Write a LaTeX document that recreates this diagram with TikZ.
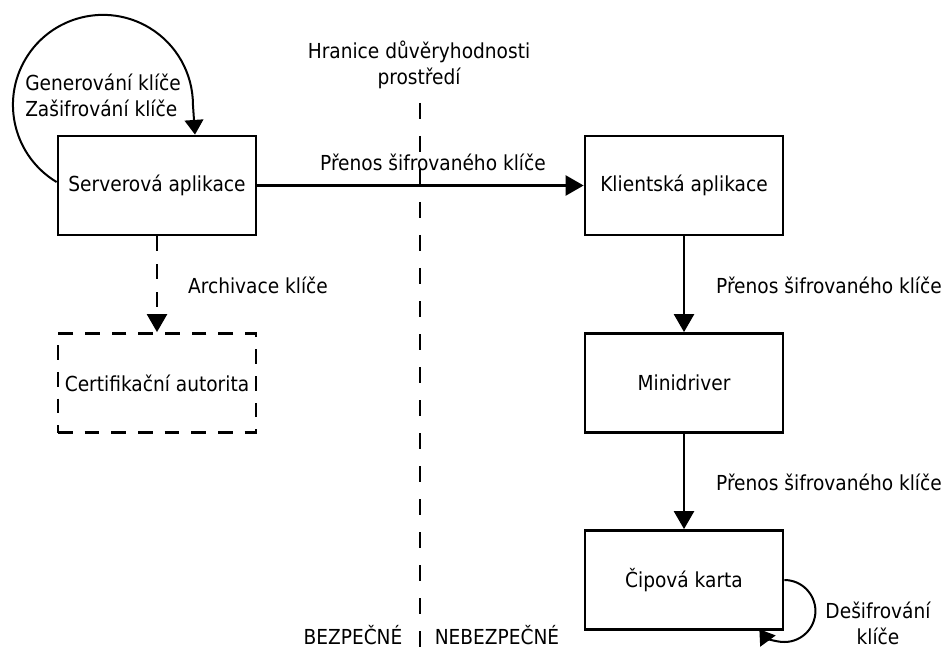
\documentclass[tikz,border=0pt]{standalone}
\usepackage{fontspec}
\setmainfont{DejaVu Sans Condensed}
\usetikzlibrary{arrows.meta}
\begin{document}
\begin{tikzpicture}[x=0.75pt,y=-0.75pt,
  font=\fontsize{15.5}{19.5}\selectfont,
  stepbox/.style={draw,line width=2.1pt,minimum width=148.5pt,minimum height=74.25pt,inner sep=0pt},
  dashbox/.style={stepbox,dash pattern=on 11pt off 9pt},
  flow/.style={line width=1.9pt,-{Triangle[length=13.5pt,width=15pt]}},
  loopline/.style={line width=1.5pt,-{Triangle[length=11pt,width=14pt]}},
  lbl/.style={inner sep=0pt,align=center}]
\useasboundingbox (0,0) rectangle (944,648);

% boxes
\node[stepbox] (server) at (157,185.5) {Serverová aplikace};
\node[stepbox] (client) at (684,185.5) {Klientská aplikace};
\node[stepbox] (mini)   at (684,383)   {Minidriver};
\node[stepbox] (card)   at (684,580)   {Čipová karta};
\node[dashbox] (ca)     at (157,383)   {Certifikační autorita};

% trust boundary
\draw[line width=2.1pt,dash pattern=on 12pt off 12.75pt] (420,103) -- (420,648);
\node[lbl] (boundary) at (419,65) {Hranice důvěryhodnosti\\prostředí};
\node[lbl] (safe) at (353,635) {BEZPEČNÉ};
\node[lbl] (unsafe) at (497,635) {NEBEZPEČNÉ};

% connectors
\draw[flow] (server.east) -- (client.west);
\draw[flow] (client.south) -- (mini.north);
\draw[flow] (mini.south) -- (card.north);
\draw[flow,dash pattern=on 11pt off 10pt] (server.south) -- (ca.north);

% self loops
\draw[loopline] ([yshift=2.6pt]server.west) arc[start angle=121, end angle=360, radius=90]
  -- (195,0 |- server.north);
\draw[loopline] (card.east) arc[start angle=270, end angle=504, radius=31];

% labels
\node[lbl,align=left,anchor=west] (genlbl) at (25,95) {Generování klíče\\Zašifrování klíče};
\node[lbl] (l1) at (433,162) {Přenos šifrovaného klíče};
\node[lbl] (l2) at (829,285) {Přenos šifrovaného klíče};
\node[lbl] (l3) at (829,482) {Přenos šifrovaného klíče};
\node[lbl] (l4) at (258,285) {Archivace klíče};
\node[lbl] (l5) at (878,623) {Dešifrování\\klíče};
\end{tikzpicture}
\end{document}
